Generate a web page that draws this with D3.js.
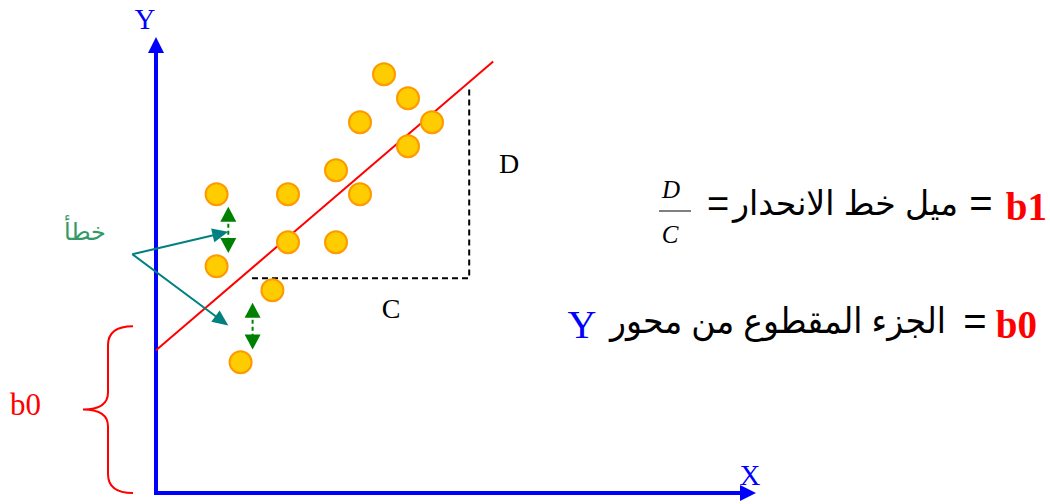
<!DOCTYPE html>
<html>
<head>
<meta charset="utf-8">
<script src="https://cdn.jsdelivr.net/npm/d3@7"></script>
<style>
  body { margin: 0; background: #fff; }
  svg { display: block; }
</style>
</head>
<body>
<div id="chart"></div>
<script>
var w = 1050, h = 504;

// scatter points (data units)
var pointX = [38, 42, 34, 46, 42, 30, 22, 34, 22, 30, 19.4, 14.1, 10.1, 10.1];
var pointY = [69.8, 65.8, 61.8, 61.8, 57.8, 53.8, 49.8, 49.8, 41.8, 41.8, 33.8, 21.8, 49.8, 37.8];

// regression line: y = b0 + b1 * x
var b0 = 23.8, b1 = 0.856, lineEndX = 56.2;

// slope triangle
var triX = [16, 52.2];
var triY = [35.8, 67.5];

// error arrows: origin and two tips
var errOrigin = [-3.95, 39.8];
var errTips = [[12.05, 43.55], [12.05, 27.9]];
// residual double arrows [x, yTop, yBottom]
var residuals = [[12.05, 47.7, 40], [16.1, 31.7, 23.9]];

// brace for intercept
var braceY = [0, 27.8];

var labels = {
  y: "Y", x: "X", d: "D", c: "C", b0: "b0", err: "خطأ",
  slopeName: "ميل خط الانحدار", interceptName: "الجزء المقطوع من محور",
  b1Eq: "b1", b0Eq: "b0", eq: "="
};

var xScale = d3.scaleLinear().domain([0, 100]).range([156, 756]);
var yScale = d3.scaleLinear().domain([0, 76]).range([493, 37]);

var svg = d3.select("#chart").append("svg")
  .attr("width", w)
  .attr("height", h);

var serif = "'Liberation Serif', 'Times New Roman', serif";
var sans = "'Liberation Sans', 'DejaVu Sans', sans-serif";

function head(tip, from, len, half, color) {
  var dx = tip[0] - from[0], dy = tip[1] - from[1];
  var d = Math.sqrt(dx * dx + dy * dy);
  var ux = dx / d, uy = dy / d;
  var bx = tip[0] - ux * len, by = tip[1] - uy * len;
  svg.append("polygon")
    .attr("points", [tip, [bx - uy * half, by + ux * half], [bx + uy * half, by - ux * half]]
      .map(function(p) { return p.join(","); }).join(" "))
    .attr("fill", color);
}

// axes
var ox = xScale(0), oy = yScale(0);
svg.append("line")
  .attr("x1", ox).attr("y1", oy + 2)
  .attr("x2", ox).attr("y2", yScale(76) + 12)
  .attr("stroke", "#0000ff").attr("stroke-width", 4);
head([ox, yScale(76)], [ox, oy], 16, 8, "#0000ff");
svg.append("line")
  .attr("x1", ox - 2).attr("y1", oy)
  .attr("x2", xScale(100) - 12).attr("y2", oy)
  .attr("stroke", "#0000ff").attr("stroke-width", 4);
head([xScale(100), oy], [ox, oy], 16, 8, "#0000ff");

svg.append("text").attr("x", 145).attr("y", 29)
  .attr("text-anchor", "middle").attr("font-family", serif).attr("font-size", 29)
  .attr("fill", "#0000ff").text(labels.y);
svg.append("text").attr("x", 750).attr("y", 485)
  .attr("text-anchor", "middle").attr("font-family", serif).attr("font-size", 29)
  .attr("fill", "#0000ff").text(labels.x);

// slope triangle
svg.append("path")
  .attr("d", d3.line()([[xScale(triX[0]), yScale(triY[0])], [xScale(triX[1]), yScale(triY[0])], [xScale(triX[1]), yScale(triY[1])]]))
  .attr("fill", "none").attr("stroke", "#000").attr("stroke-width", 2)
  .attr("stroke-dasharray", "6,4");

// regression line
svg.append("line")
  .attr("x1", xScale(0)).attr("y1", yScale(b0))
  .attr("x2", xScale(lineEndX)).attr("y2", yScale(b0 + b1 * lineEndX))
  .attr("stroke", "#ff0000").attr("stroke-width", 2);

// points
svg.selectAll("circle.pt")
  .data(d3.range(pointX.length))
  .enter().append("circle")
  .attr("class", "pt")
  .attr("cx", function(i) { return xScale(pointX[i]); })
  .attr("cy", function(i) { return yScale(pointY[i]); })
  .attr("r", 11)
  .attr("fill", "#ffcc00")
  .attr("stroke", "#ff9900")
  .attr("stroke-width", 2);

// residual arrows
residuals.forEach(function(r) {
  var x = xScale(r[0]), y1 = yScale(r[1]), y2 = yScale(r[2]);
  svg.append("line")
    .attr("x1", x).attr("y1", y1 + 10).attr("x2", x).attr("y2", y2 - 10)
    .attr("stroke", "#008000").attr("stroke-width", 2).attr("stroke-dasharray", "4,3");
  head([x, y1], [x, y2], 15, 8, "#008000");
  head([x, y2], [x, y1], 15, 8, "#008000");
});

// error pointer arrows
var o = [xScale(errOrigin[0]), yScale(errOrigin[1])];
errTips.forEach(function(t) {
  var tp = [xScale(t[0]), yScale(t[1])];
  var dx = tp[0] - o[0], dy = tp[1] - o[1], d = Math.sqrt(dx * dx + dy * dy);
  svg.append("line")
    .attr("x1", o[0]).attr("y1", o[1])
    .attr("x2", tp[0] - dx / d * 12).attr("y2", tp[1] - dy / d * 12)
    .attr("stroke", "#008080").attr("stroke-width", 2);
  head(tp, o, 16, 7, "#008080");
});
svg.append("text").attr("x", 85).attr("y", 240)
  .attr("text-anchor", "middle").attr("font-family", sans).attr("font-size", 24)
  .attr("fill", "#339966").text(labels.err);

// D and C labels
svg.append("text").attr("x", 509).attr("y", 173)
  .attr("text-anchor", "middle").attr("font-family", serif).attr("font-size", 28)
  .text(labels.d);
svg.append("text").attr("x", 391).attr("y", 318)
  .attr("text-anchor", "middle").attr("font-family", serif).attr("font-size", 28)
  .text(labels.c);

// intercept brace
var bt = yScale(braceY[1]), bb = yScale(braceY[0]), bm = (bt + bb) / 2;
var bx0 = ox - 23, bs = ox - 48, btip = ox - 73;
svg.append("path")
  .attr("d", "M" + bx0 + "," + bt + " Q" + bs + "," + bt + " " + bs + "," + (bt + 19) +
    " L" + bs + "," + (bm - 17) + " Q" + bs + "," + bm + " " + btip + "," + bm +
    " Q" + bs + "," + bm + " " + bs + "," + (bm + 17) +
    " L" + bs + "," + (bb - 19) + " Q" + bs + "," + bb + " " + bx0 + "," + bb)
  .attr("fill", "none").attr("stroke", "#ff0000").attr("stroke-width", 2);
svg.append("text").attr("x", 10).attr("y", 415)
  .attr("font-family", serif).attr("font-size", 31)
  .attr("fill", "#ff0000").text(labels.b0);

// equation 1: b1 = slope = D/C
svg.append("text").attr("x", 1047).attr("y", 220)
  .attr("text-anchor", "end").attr("font-family", serif).attr("font-size", 39)
  .attr("font-weight", "bold").attr("fill", "#ff0000").text(labels.b1Eq);
svg.append("text").attr("x", 981).attr("y", 217)
  .attr("text-anchor", "middle").attr("font-family", sans).attr("font-size", 40)
  .text(labels.eq);
svg.append("text").attr("x", 958).attr("y", 215)
  .attr("text-anchor", "end").attr("font-family", sans).attr("font-size", 34)
  .attr("textLength", 225).attr("lengthAdjust", "spacingAndGlyphs")
  .text(labels.slopeName);
svg.append("text").attr("x", 718).attr("y", 217)
  .attr("text-anchor", "middle").attr("font-family", sans).attr("font-size", 38)
  .text(labels.eq);
svg.append("text").attr("x", 671).attr("y", 198)
  .attr("text-anchor", "middle").attr("font-family", serif).attr("font-size", 25)
  .attr("font-style", "italic").text(labels.d);
svg.append("line").attr("x1", 659).attr("x2", 691).attr("y1", 211).attr("y2", 211)
  .attr("stroke", "#000").attr("stroke-width", 1);
svg.append("text").attr("x", 670).attr("y", 243)
  .attr("text-anchor", "middle").attr("font-family", serif).attr("font-size", 25)
  .attr("font-style", "italic").text(labels.c);

// equation 2: b0 = intercept of Y
svg.append("text").attr("x", 1037).attr("y", 338)
  .attr("text-anchor", "end").attr("font-family", serif).attr("font-size", 39)
  .attr("font-weight", "bold").attr("fill", "#ff0000").text(labels.b0Eq);
svg.append("text").attr("x", 975).attr("y", 335)
  .attr("text-anchor", "middle").attr("font-family", sans).attr("font-size", 40)
  .text(labels.eq);
svg.append("text").attr("x", 946).attr("y", 333)
  .attr("text-anchor", "end").attr("font-family", sans).attr("font-size", 35)
  .attr("textLength", 336).attr("lengthAdjust", "spacingAndGlyphs")
  .text(labels.interceptName);
svg.append("text").attr("x", 582).attr("y", 338)
  .attr("text-anchor", "middle").attr("font-family", serif).attr("font-size", 40)
  .attr("fill", "#0000ff").text(labels.y);
</script>
</body>
</html>
